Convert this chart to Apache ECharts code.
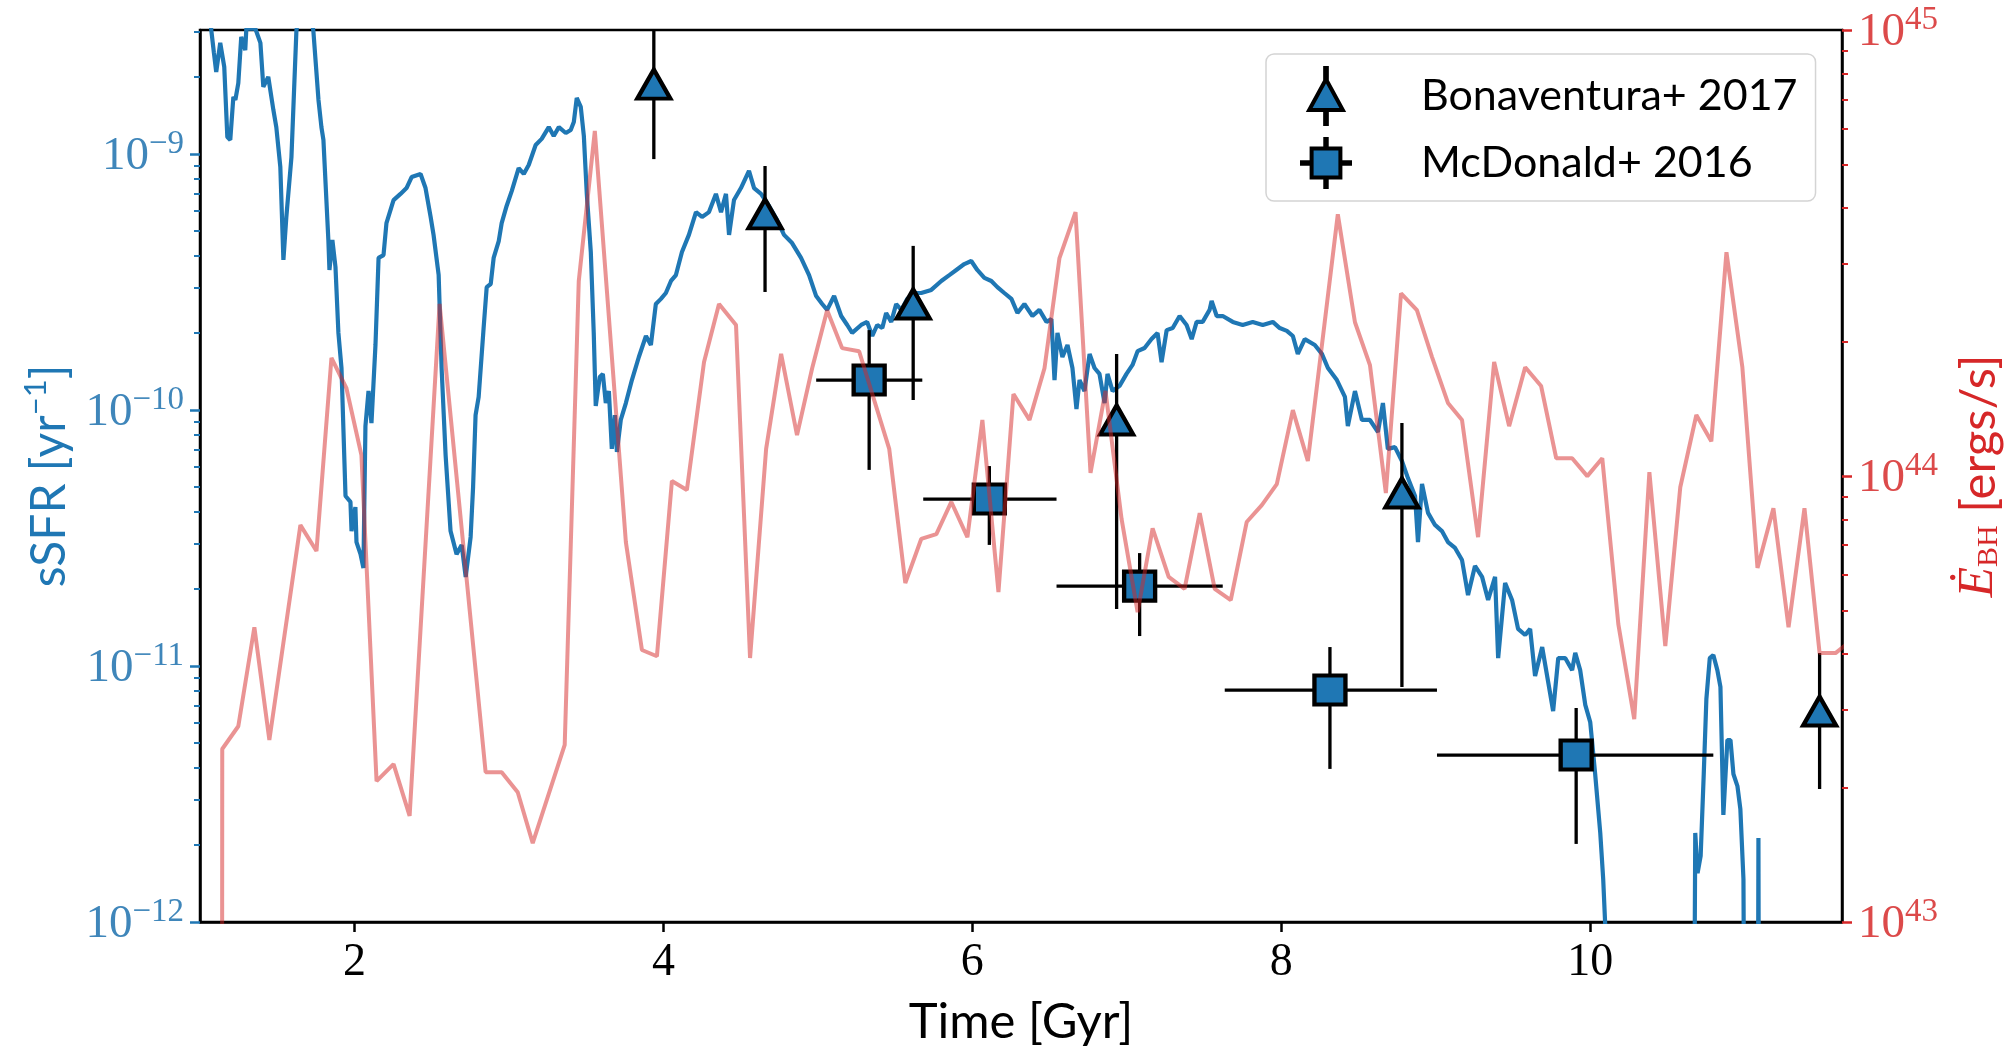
<!DOCTYPE html>
<html>
<head>
<meta charset="utf-8">
<script src="https://cdn.jsdelivr.net/npm/echarts@6/dist/echarts.min.js"></script>
<style>
  html, body { margin: 0; padding: 0; background: #ffffff; }
  #chart { width: 2016px; height: 1053px; }
</style>
</head>
<body>
<div id="chart"></div>
<script>
// ---- simulated specific star formation rate (time in Gyr, log10 sSFR in yr^-1) ----
const timeSSFR = [
  1.07, 1.09, 1.105, 1.131, 1.157, 1.177, 1.196, 1.216, 1.229, 1.248, 1.267, 1.293, 1.30, 1.358, 1.391, 1.41, 1.442, 1.475, 1.494, 1.52,
  1.54, 1.559, 1.592, 1.624, 1.676, 1.734, 1.767, 1.786, 1.799, 1.831, 1.838, 1.857, 1.877, 1.896, 1.916, 1.942, 1.974, 1.981, 2.006, 2.013,
  2.039, 2.058, 2.071, 2.091, 2.11, 2.136, 2.156, 2.188, 2.207, 2.253, 2.298, 2.337, 2.37, 2.428, 2.46, 2.493, 2.512, 2.545, 2.564, 2.59,
  2.622, 2.661, 2.694, 2.72, 2.752, 2.768, 2.784, 2.804, 2.836, 2.856, 2.882, 2.901, 2.934, 2.953, 2.985, 3.018, 3.063, 3.096, 3.128, 3.173,
  3.212, 3.258, 3.29, 3.323, 3.368, 3.4, 3.42, 3.439, 3.465, 3.485, 3.504, 3.53, 3.549, 3.562, 3.588, 3.608, 3.627, 3.647, 3.666, 3.686,
  3.699, 3.724, 3.757, 3.796, 3.841, 3.887, 3.919, 3.951, 3.984, 4.016, 4.049, 4.081, 4.12, 4.165, 4.211, 4.25, 4.295, 4.34, 4.373, 4.405,
  4.425, 4.457, 4.502, 4.554, 4.587, 4.632, 4.684, 4.736, 4.781, 4.833, 4.891, 4.943, 4.989, 5.028, 5.06, 5.105, 5.151, 5.19, 5.222, 5.28,
  5.319, 5.352, 5.384, 5.417, 5.442, 5.475, 5.507, 5.54, 5.579, 5.624, 5.669, 5.734, 5.799, 5.851, 5.896, 5.948, 5.993, 6.032, 6.078, 6.123,
  6.162, 6.207, 6.253, 6.292, 6.337, 6.389, 6.434, 6.48, 6.512, 6.532, 6.551, 6.583, 6.616, 6.648, 6.674, 6.694, 6.726, 6.759, 6.791, 6.823,
  6.856, 6.875, 6.908, 6.953, 6.998, 7.037, 7.07, 7.115, 7.16, 7.199, 7.225, 7.258, 7.297, 7.342, 7.387, 7.42, 7.452, 7.491, 7.536, 7.549,
  7.582, 7.621, 7.686, 7.75, 7.815, 7.88, 7.945, 7.99, 8.036, 8.075, 8.107, 8.152, 8.217, 8.263, 8.302, 8.36, 8.412, 8.431, 8.477, 8.522,
  8.574, 8.626, 8.658, 8.69, 8.736, 8.781, 8.82, 8.866, 8.885, 8.911, 8.95, 8.995, 9.04, 9.079, 9.125, 9.17, 9.209, 9.254, 9.3, 9.339,
  9.384, 9.404, 9.449, 9.494, 9.533, 9.579, 9.611, 9.643, 9.689, 9.728, 9.76, 9.793, 9.838, 9.883, 9.903, 9.935, 9.968, 10.0, 10.032, 10.065,
  10.084, 10.097, 10.115, 10.66, 10.68, 10.695, 10.715, 10.735, 10.752, 10.774, 10.797, 10.823, 10.843, 10.862, 10.888, 10.908, 10.927, 10.953, 10.972, 10.992,
  11.01, 11.08, 11.089, 11.098, 11.63
];
const ssfrLog10 = [
  -8.50, -8.605, -8.68, -8.566, -8.66, -8.934, -8.945, -8.777, -8.789, -8.723, -8.543, -8.594, -8.51, -8.51, -8.566, -8.738, -8.699, -8.828, -8.895, -9.051,
  -9.414, -9.246, -9.012, -8.52, -8.30, -8.52, -8.789, -8.895, -8.945, -9.336, -9.453, -9.336, -9.441, -9.699, -9.836, -10.336, -10.359, -10.473, -10.379, -10.516,
  -10.563, -10.617, -10.063, -9.926, -10.051, -9.746, -9.406, -9.395, -9.27, -9.18, -9.156, -9.133, -9.09, -9.078, -9.133, -9.246, -9.316, -9.473, -9.836, -10.176,
  -10.473, -10.563, -10.527, -10.652, -10.496, -10.30, -10.02, -9.949, -9.68, -9.52, -9.508, -9.406, -9.34, -9.27, -9.203, -9.145, -9.055, -9.078, -9.043, -8.965,
  -8.941, -8.895, -8.93, -8.895, -8.918, -8.906, -8.875, -8.781, -8.816, -8.93, -9.156, -9.383, -9.699, -9.984, -9.871, -9.859, -9.973, -9.926, -10.152, -10.02,
  -10.164, -10.039, -9.973, -9.883, -9.793, -9.711, -9.746, -9.586, -9.566, -9.543, -9.496, -9.473, -9.383, -9.316, -9.227, -9.246, -9.227, -9.156, -9.227, -9.156,
  -9.316, -9.18, -9.133, -9.066, -9.133, -9.156, -9.203, -9.258, -9.316, -9.348, -9.406, -9.473, -9.555, -9.586, -9.609, -9.555, -9.633, -9.668, -9.699, -9.668,
  -9.656, -9.711, -9.668, -9.68, -9.621, -9.656, -9.586, -9.609, -9.566, -9.543, -9.543, -9.531, -9.496, -9.473, -9.453, -9.43, -9.418, -9.453, -9.484, -9.496,
  -9.52, -9.543, -9.566, -9.621, -9.586, -9.633, -9.609, -9.656, -9.645, -9.883, -9.699, -9.793, -9.746, -9.836, -9.996, -9.883, -9.926, -9.781, -9.836, -9.859,
  -9.973, -9.859, -9.926, -9.906, -9.859, -9.824, -9.77, -9.758, -9.723, -9.699, -9.813, -9.688, -9.68, -9.633, -9.668, -9.723, -9.656, -9.656, -9.609, -9.574,
  -9.633, -9.633, -9.656, -9.668, -9.656, -9.668, -9.656, -9.68, -9.691, -9.711, -9.781, -9.723, -9.746, -9.781, -9.836, -9.883, -9.949, -10.063, -9.926, -10.039,
  -10.039, -10.086, -9.973, -10.152, -10.145, -10.199, -10.266, -10.336, -10.516, -10.289, -10.402, -10.449, -10.473, -10.516, -10.539, -10.586, -10.723, -10.609, -10.652, -10.742,
  -10.652, -10.969, -10.676, -10.742, -10.855, -10.879, -10.855, -11.039, -10.926, -11.063, -11.176, -10.969, -10.969, -11.016, -10.949, -11.016, -11.152, -11.219, -11.422, -11.652,
  -11.832, -12.01, -14, -14, -11.652, -11.809, -11.742, -11.422, -11.129, -10.969, -10.957, -11.016, -11.082, -11.582, -11.289, -11.289, -11.422, -11.469, -11.559, -11.832,
  -14, -14, -11.672, -14, -14
];

// ---- black hole energy injection rate (time in Gyr, log10 Edot in erg/s) ----
const timeEBH = [
  1.14, 1.144, 1.248, 1.352, 1.449, 1.65, 1.754, 1.851, 1.948, 2.045, 2.143, 2.253, 2.357, 2.551, 2.849, 2.953, 3.057, 3.154, 3.361, 3.452,
  3.556, 3.757, 3.861, 3.958, 4.055, 4.152, 4.263, 4.36, 4.47, 4.561, 4.665, 4.762, 4.865, 4.963, 5.06, 5.157, 5.267, 5.462, 5.566, 5.669,
  5.767, 5.864, 5.968, 6.065, 6.169, 6.266, 6.37, 6.467, 6.564, 6.668, 6.765, 6.862, 6.966, 7.07, 7.167, 7.271, 7.374, 7.472, 7.569, 7.673,
  7.776, 7.874, 7.971, 8.075, 8.172, 8.366, 8.477, 8.574, 8.677, 8.775, 8.878, 8.976, 9.079, 9.17, 9.274, 9.378, 9.475, 9.579, 9.682, 9.78,
  9.883, 9.981, 10.078, 10.182, 10.285, 10.383, 10.486, 10.583, 10.687, 10.784, 10.882, 10.985, 11.083, 11.186, 11.284, 11.387, 11.485, 11.588, 11.685
];
const ebhLog10 = [
  41.0, 43.388, 43.439, 43.661, 43.408, 43.89, 43.832, 44.265, 44.197, 44.047, 43.316, 43.354, 43.238, 44.386, 43.336, 43.336, 43.291, 43.177, 43.397, 44.437,
  44.774, 43.852, 43.61, 43.596, 43.989, 43.969, 44.256, 44.386, 44.339, 43.592, 44.061, 44.274, 44.092, 44.242, 44.372, 44.287, 44.28, 44.061, 43.76, 43.859,
  43.87, 43.942, 43.863, 44.126, 43.74, 44.184, 44.126, 44.242, 44.489, 44.592, 44.007, 44.191, 43.904, 43.695, 43.883, 43.774, 43.747, 43.917, 43.747, 43.722,
  43.897, 43.935, 43.982, 44.148, 44.034, 44.587, 44.345, 44.249, 43.962, 44.41, 44.372, 44.267, 44.164, 44.126, 43.863, 44.256, 44.112, 44.244, 44.202, 44.04,
  44.04, 44.0, 44.04, 43.668, 43.455, 44.009, 43.619, 43.975, 44.137, 44.078, 44.502, 44.244, 43.794, 43.928, 43.661, 43.928, 43.603, 43.603, 43.63
];

// ---- observations: Bonaventura+ 2017 (log10 sSFR with lower / upper error) ----
const bonaTime    = [3.938, 4.658, 5.617, 6.934, 8.781, 11.485];
const bonaLog10   = [-8.727, -9.234, -9.586, -10.039, -10.324, -11.176];
const bonaLog10Lo = [-9.02, -9.539, -9.961, -10.777, -11.082, -11.48];
const bonaLog10Hi = [-8.43, -9.047, -9.359, -9.781, -10.051, -10.949];

// ---- observations: McDonald+ 2016 (time bins and log10 sSFR with errors) ----
const mcdTime     = [5.332, 6.11, 7.083, 8.315, 9.909];
const mcdTimeLo   = [4.989, 5.682, 6.545, 7.634, 9.008];
const mcdTimeHi   = [5.676, 6.545, 7.621, 9.008, 10.797];
const mcdLog10    = [-9.883, -10.348, -10.688, -11.094, -11.348];
const mcdLog10Lo  = [-10.234, -10.527, -10.883, -11.402, -11.695];
const mcdLog10Hi  = [-9.688, -10.219, -10.559, -10.926, -11.164];

// ---- axis ticks ----
const timeTicks      = [2, 4, 6, 8, 10];
const ssfrMajorTicks = [1e-12, 1e-11, 1e-10, 1e-9];
const ssfrMinorTicks = [2e-12, 3e-12, 4e-12, 5e-12, 6e-12, 7e-12, 8e-12, 9e-12,
                        2e-11, 3e-11, 4e-11, 5e-11, 6e-11, 7e-11, 8e-11, 9e-11,
                        2e-10, 3e-10, 4e-10, 5e-10, 6e-10, 7e-10, 8e-10, 9e-10,
                        2e-9, 3e-9];
const ebhMajorTicks  = [1e43, 1e44, 1e45];
const ebhMinorTicks  = [2e43, 3e43, 4e43, 5e43, 6e43, 7e43, 8e43, 9e43,
                        2e44, 3e44, 4e44, 5e44, 6e44, 7e44, 8e44, 9e44];

const BLUE = '#1f77b4';
const RED = '#d62728';
const SERIF = '"Liberation Serif", "DejaVu Serif", serif';
const SANS = 'Lato, "Open Sans", "DejaVu Sans", sans-serif';

const pow10 = v => Math.pow(10, v);
const ssfrLine = timeSSFR.map((t, i) => [t, pow10(ssfrLog10[i])]);
const ebhLine = timeEBH.map((t, i) => [t, pow10(ebhLog10[i])]);
const bonaPoints = bonaTime.map((t, i) => [t, pow10(bonaLog10[i])]);
const bonaBars = bonaTime.map((t, i) => [t, pow10(bonaLog10Lo[i]), pow10(bonaLog10Hi[i]), t, t, pow10(bonaLog10[i])]);
const mcdPoints = mcdTime.map((t, i) => [t, pow10(mcdLog10[i])]);
const mcdBars = mcdTime.map((t, i) => [t, pow10(mcdLog10Lo[i]), pow10(mcdLog10Hi[i]), mcdTimeLo[i], mcdTimeHi[i], pow10(mcdLog10[i])]);

// power-of-ten tick labels with a superscript exponent
function powerLabel(v) {
  const e = Math.round(Math.log10(v));
  return '{b|10}{s|' + (e < 0 ? '\u2212' + (-e) : e) + '}';
}
const powerRich = (color) => ({
  b: { fontFamily: SERIF, fontSize: 47, color: color, lineHeight: 52, verticalAlign: 'bottom' },
  s: { fontFamily: SERIF, fontSize: 33, color: color, lineHeight: 33, verticalAlign: 'top' }
});

// vertical (and, when present, horizontal) error bars
function errorBars(params, api) {
  const t = api.value(0), lo = api.value(1), hi = api.value(2);
  const tl = api.value(3), th = api.value(4), y = api.value(5);
  const a = api.coord([t, lo]), b = api.coord([t, hi]);
  const style = { stroke: '#000', lineWidth: 3.3 };
  const children = [{ type: 'line', shape: { x1: a[0], y1: a[1], x2: b[0], y2: b[1] }, style: style }];
  if (th > tl) {
    const c = api.coord([tl, y]), d = api.coord([th, y]);
    children.push({ type: 'line', shape: { x1: c[0], y1: c[1], x2: d[0], y2: d[1] }, style: style });
  }
  return { type: 'group', children: children };
}

const triIcon = 'path://M50,20 L80,75 L20,75 Z M48.5,0 L51.5,0 L51.5,20 L48.5,20 Z M48.5,75 L51.5,75 L51.5,100 L48.5,100 Z';
const sqIcon = 'path://M20,20 L80,20 L80,80 L20,80 Z M48.5,0 L51.5,0 L51.5,20 L48.5,20 Z M48.5,80 L51.5,80 L51.5,100 L48.5,100 Z M0,48.5 L20,48.5 L20,51.5 L0,51.5 Z M80,48.5 L100,48.5 L100,51.5 L80,51.5 Z';

const chart = echarts.init(document.getElementById('chart'), null, { renderer: 'canvas' });

const logY = (extra) => Object.assign({
  type: 'log', logBase: 10, splitLine: { show: false }
}, extra);

chart.setOption({
  animation: false,
  backgroundColor: '#ffffff',
  grid: {
    left: 200, right: 174, top: 30, bottom: 131,
    show: true, borderColor: '#000', borderWidth: 2.5, backgroundColor: 'transparent'
  },
  legend: {
    orient: 'vertical',
    left: 1266, top: 54,
    padding: [12, 18, 12, 34],
    itemWidth: 48, itemHeight: 56, itemGap: 11,
    backgroundColor: 'rgba(255,255,255,0.8)',
    borderColor: '#d4d4d4', borderWidth: 1.5, borderRadius: 8,
    selectedMode: false,
    textStyle: { fontFamily: SANS, fontSize: 43, color: '#000', padding: [0, 0, 0, 66] },
    data: [
      { name: 'Bonaventura+ 2017', icon: triIcon, itemStyle: { color: BLUE, borderColor: '#000', borderWidth: 4 } },
      { name: 'McDonald+ 2016', icon: sqIcon, itemStyle: { color: BLUE, borderColor: '#000', borderWidth: 4 } }
    ]
  },
  xAxis: [{
    type: 'value', min: 1.0, max: 11.63,
    name: 'Time [Gyr]', nameLocation: 'middle', nameGap: 76,
    nameTextStyle: { fontFamily: SANS, fontSize: 49, color: '#000' },
    axisLine: { lineStyle: { color: '#000', width: 2.5 } },
    axisTick: { customValues: timeTicks, length: 10, lineStyle: { color: '#000', width: 2.5 } },
    axisLabel: { customValues: timeTicks, margin: 18, fontFamily: SERIF, fontSize: 46, color: '#000' },
    splitLine: { show: false }
  }],
  yAxis: [
    logY({
      position: 'left', min: 1e-12, max: 3.05e-9,
      name: '{t|sSFR [yr}{s|\u22121}{t|]}', nameLocation: 'middle', nameRotate: 90, nameGap: 126,
      nameTextStyle: {
        rich: {
          t: { fontFamily: SANS, fontSize: 48, color: BLUE, lineHeight: 54, verticalAlign: 'bottom' },
          s: { fontFamily: SANS, fontSize: 31, color: BLUE, lineHeight: 31, verticalAlign: 'top' }
        }
      },
      axisLine: { show: true, lineStyle: { color: '#000', width: 2.5 } },
      axisTick: { customValues: ssfrMajorTicks, length: 10, lineStyle: { color: BLUE, width: 2.5 } },
      axisLabel: { customValues: ssfrMajorTicks, margin: 16, formatter: powerLabel, rich: powerRich('#3f86ba') }
    }),
    logY({
      position: 'right', min: 1e43, max: 1.001e45,
      name: '{e|\u0116}{sub|BH}{t| [ergs/s]}', nameLocation: 'middle', nameRotate: 90, nameGap: 106,
      nameTextStyle: {
        rich: {
          e: { fontFamily: SERIF, fontStyle: 'italic', fontSize: 50, color: RED, lineHeight: 56, verticalAlign: 'bottom' },
          sub: { fontFamily: SERIF, fontSize: 30, color: RED, lineHeight: 30, verticalAlign: 'bottom' },
          t: { fontFamily: SANS, fontSize: 49, color: RED, lineHeight: 56, verticalAlign: 'bottom' }
        }
      },
      axisLine: { show: true, lineStyle: { color: '#000', width: 2.5 } },
      axisTick: { customValues: ebhMajorTicks, length: 10, lineStyle: { color: RED, width: 2.5 } },
      axisLabel: { customValues: ebhMajorTicks, margin: 16, formatter: powerLabel, rich: powerRich('#dc4a4a') }
    }),
    logY({
      position: 'left', min: 1e-12, max: 3.05e-9,
      axisLine: { show: false },
      axisTick: { customValues: ssfrMinorTicks, length: 6, lineStyle: { color: BLUE, width: 2 } },
      axisLabel: { show: false }
    }),
    logY({
      position: 'right', min: 1e43, max: 1.001e45,
      axisLine: { show: false },
      axisTick: { customValues: ebhMinorTicks, length: 6, lineStyle: { color: RED, width: 2 } },
      axisLabel: { show: false }
    })
  ],
  series: [
    {
      name: 'sSFR', type: 'line', xAxisIndex: 0, yAxisIndex: 0, data: ssfrLine,
      symbol: 'none', clip: true, z: 2,
      lineStyle: { color: BLUE, width: 4.2 }
    },
    {
      name: 'Bonaventura+ 2017', type: 'custom', xAxisIndex: 0, yAxisIndex: 0,
      data: bonaBars, renderItem: errorBars, clip: true, z: 3,
      encode: { x: 0, y: [1, 2] }
    },
    {
      name: 'McDonald+ 2016', type: 'custom', xAxisIndex: 0, yAxisIndex: 0,
      data: mcdBars, renderItem: errorBars, clip: true, z: 3,
      encode: { x: [0, 3, 4], y: [1, 2] }
    },
    {
      name: 'Bonaventura+ 2017', type: 'scatter', xAxisIndex: 0, yAxisIndex: 0, data: bonaPoints,
      symbol: 'triangle', symbolSize: [33, 29], z: 4,
      itemStyle: { color: BLUE, borderColor: '#000', borderWidth: 4.2, opacity: 1 }
    },
    {
      name: 'McDonald+ 2016', type: 'scatter', xAxisIndex: 0, yAxisIndex: 0, data: mcdPoints,
      symbol: 'rect', symbolSize: [31, 29], z: 4,
      itemStyle: { color: BLUE, borderColor: '#000', borderWidth: 4.2, opacity: 1 }
    },
    {
      name: 'Edot', type: 'line', xAxisIndex: 0, yAxisIndex: 1, data: ebhLine,
      symbol: 'none', clip: true, z: 5,
      lineStyle: { color: RED, width: 4, opacity: 0.5 }
    }
  ]
});
</script>
</body>
</html>
